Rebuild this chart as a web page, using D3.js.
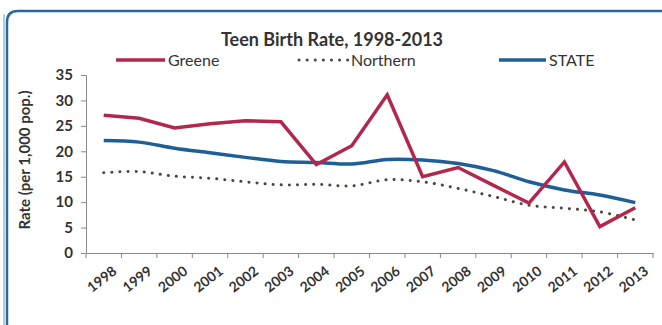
<!DOCTYPE html>
<html>
<head>
<meta charset="utf-8">
<script src="https://cdn.jsdelivr.net/npm/d3@7"></script>
<style>
  html, body { margin: 0; padding: 0; background: #fff; }
  svg { display: block; }
  text { font-family: Lato, "Open Sans", sans-serif; fill: #333; }
</style>
</head>
<body>
<svg id="chart" width="662" height="325"></svg>
<script>
// Teen birth rate per 1,000 population
const years = ["1998","1999","2000","2001","2002","2003","2004","2005",
               "2006","2007","2008","2009","2010","2011","2012","2013"];
const greene   = [27.1, 26.5, 24.6, 25.4, 26.0, 25.8, 17.4, 21.1, 31.1, 15.0, 16.8, 13.3, 9.8, 17.9, 5.2, 8.9];
const northern = [15.8, 16.0, 15.1, 14.7, 14.0, 13.4, 13.5, 13.2, 14.4, 14.0, 12.7, 11.1, 9.4, 8.8, 8.1, 6.5];
const state    = [22.1, 21.8, 20.6, 19.7, 18.8, 18.0, 17.8, 17.5, 18.4, 18.3, 17.6, 16.2, 14.0, 12.4, 11.4, 9.9];
const yTicks   = [0, 5, 10, 15, 20, 25, 30, 35];

const seriesNames  = ["Greene", "Northern", "STATE"];
const seriesColors = ["#b3274c", "#4a4a3c", "#1f5f97"];

const svg = d3.select("#chart");

// outer frame
svg.append("path")
  .attr("d", "M7,330 L7,22 Q7,11 18,11 L670,11")
  .attr("fill", "none").attr("stroke", "#2a679c").attr("stroke-width", 2.5);
svg.append("line")
  .attr("x1", 4).attr("x2", 4).attr("y1", 14).attr("y2", 325)
  .attr("stroke", "#9cbbd6").attr("stroke-width", 1.5);

const x = d3.scaleBand().domain(years).range([86, 653]);
const y = d3.scaleLinear().domain([0, 35]).range([253, 75]);

// title
svg.append("text")
  .attr("x", 332).attr("y", 46)
  .attr("text-anchor", "middle")
  .style("font-size", "18px").style("font-weight", "bold")
  .text("Teen Birth Rate, 1998-2013");

// y axis
const yAxis = svg.append("g")
  .attr("transform", "translate(86,0)")
  .call(d3.axisLeft(y).tickValues(yTicks).tickSize(5).tickPadding(8));
yAxis.select(".domain").attr("stroke", "#888");
yAxis.selectAll(".tick line").attr("stroke", "#888");
yAxis.selectAll(".tick text")
  .style("font-size", "15px").style("font-weight", "bold").attr("fill", "#333");

// x axis
const xAxis = svg.append("g")
  .attr("transform", "translate(0,253)")
  .call(d3.axisBottom(x).tickSize(0).tickFormat(""));
xAxis.select(".domain").attr("stroke", "#888");
xAxis.selectAll(".tick").remove();
const bounds = years.map(d => x(d)).concat([x.range()[1]]);
xAxis.selectAll("line.sep").data(bounds).enter().append("line")
  .attr("class", "sep")
  .attr("x1", d => d).attr("x2", d => d).attr("y1", 0).attr("y2", 5)
  .attr("stroke", "#888");
xAxis.selectAll("text.lbl").data(years).enter().append("text")
  .attr("class", "lbl")
  .attr("text-anchor", "end")
  .attr("transform", d => `translate(${x(d) + x.bandwidth() / 2 + 14},${20}) rotate(-38)`)
  .style("font-size", "14px").style("font-weight", "bold")
  .text(d => d);

// y axis title
svg.append("text")
  .attr("transform", "translate(30,160) rotate(-90)")
  .attr("text-anchor", "middle")
  .style("font-size", "15px").style("font-weight", "bold")
  .text("Rate (per 1,000 pop.)");

const cx = d => x(d) + x.bandwidth() / 2;

// STATE (smoothed)
svg.append("path")
  .datum(state)
  .attr("fill", "none").attr("stroke", seriesColors[2]).attr("stroke-width", 3.5)
  .attr("d", d3.line().x((d, i) => cx(years[i])).y(d => y(d)).curve(d3.curveCatmullRom.alpha(0.5)));

// Northern (smoothed, dotted)
svg.append("path")
  .datum(northern)
  .attr("fill", "none").attr("stroke", seriesColors[1]).attr("stroke-width", 3)
  .attr("stroke-linecap", "round").attr("stroke-dasharray", "0.1 8")
  .attr("d", d3.line().x((d, i) => cx(years[i])).y(d => y(d)).curve(d3.curveCatmullRom.alpha(0.5)));

// Greene (straight segments)
svg.append("path")
  .datum(greene)
  .attr("fill", "none").attr("stroke", seriesColors[0]).attr("stroke-width", 3.5)
  .attr("stroke-linejoin", "miter")
  .attr("d", d3.line().x((d, i) => cx(years[i])).y(d => y(d)));

// legend
const legendX = [116, 299, 499];
const legendW = [49, 49, 47];
const lg = svg.append("g");
seriesNames.forEach((name, i) => {
  const line = lg.append("line")
    .attr("x1", legendX[i]).attr("x2", legendX[i] + legendW[i])
    .attr("y1", 60).attr("y2", 60)
    .attr("stroke", seriesColors[i]).attr("stroke-width", i === 1 ? 3 : 3.5);
  if (i === 1) line.attr("stroke-linecap", "round").attr("stroke-dasharray", "0.1 8");
  lg.append("text")
    .attr("x", legendX[i] + legendW[i] + 3).attr("y", 66)
    .style("font-size", "16px")
    .text(name);
});
</script>
</body>
</html>
